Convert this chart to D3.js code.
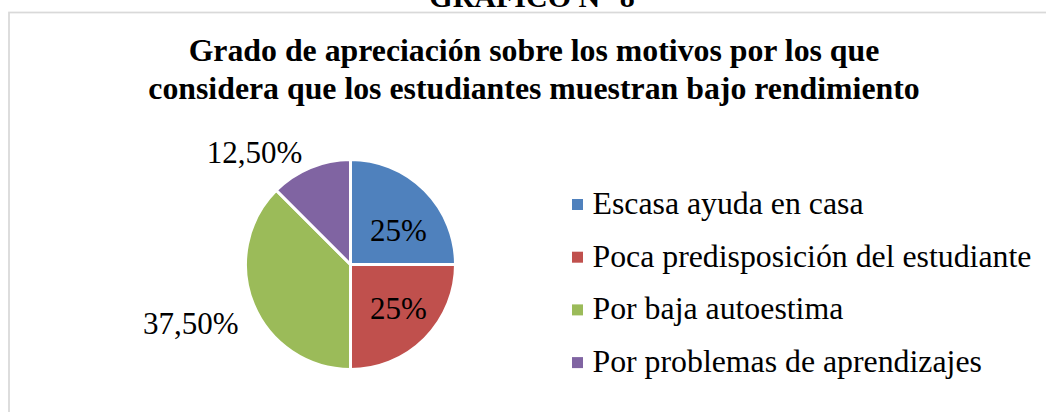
<!DOCTYPE html>
<html>
<head>
<meta charset="utf-8">
<script src="https://cdn.jsdelivr.net/npm/d3@7"></script>
<style>
  html, body { margin: 0; padding: 0; background: #fff; }
  svg { display: block; }
  text { font-family: "Liberation Serif", "Times New Roman", serif; fill: #000; }
</style>
</head>
<body>
<svg id="chart" width="1046" height="412"></svg>
<script>
const categories = ["Escasa ayuda en casa", "Poca predisposición del estudiante", "Por baja autoestima", "Por problemas de aprendizajes"];
const values = [25, 25, 37.5, 12.5];
const valueLabels = ["25%", "25%", "37,50%", "12,50%"];
const colors = ["#4F81BD", "#C0504D", "#9BBB59", "#8064A2"];
const headerText = "GRAFICO N° 8";
const titleLines = ["Grado de apreciación sobre los motivos por los que", "considera que los estudiantes muestran bajo rendimiento"];

const svg = d3.select("#chart");
const W = 1046, H = 412;

svg.append("rect").attr("x", 0).attr("y", 0).attr("width", W).attr("height", H).attr("fill", "#fff");

// header (cut off at top, as in the reference)
svg.append("text").attr("x", 532).attr("y", 7).attr("text-anchor", "middle")
  .attr("font-weight", "bold").attr("font-size", 30).text(headerText);

// chart area border
svg.append("rect").attr("x", 9).attr("y", 12.5).attr("width", W + 20).attr("height", H + 20)
  .attr("fill", "none").attr("stroke", "#d9d9d9").attr("stroke-width", 1.75);

// title
svg.append("g").selectAll("text").data(titleLines).join("text")
  .attr("x", 534).attr("y", (d, i) => 61 + i * 38)
  .attr("text-anchor", "middle").attr("font-weight", "bold").attr("font-size", 31.8)
  .text(d => d);

// pie
const cx = 350.5, cy = 264.5, r = 105;
const pie = d3.pie().sort(null).value(d => d)(values);
const arc = d3.arc().innerRadius(0).outerRadius(r);
const g = svg.append("g").attr("transform", `translate(${cx},${cy})`);
g.selectAll("path").data(pie).join("path")
  .attr("d", arc).attr("fill", (d, i) => colors[i])
  .attr("stroke", "#fff").attr("stroke-width", 3).attr("stroke-linejoin", "miter");

const inArc = d3.arc().innerRadius(55).outerRadius(55);
const outArc = d3.arc().innerRadius(118).outerRadius(118);
g.selectAll("text.lbl").data(pie).join("text").attr("class", "lbl")
  .attr("font-size", 31)
  .each(function(d, i) {
    const sel = d3.select(this);
    if (i < 2) {
      const [x, y] = inArc.centroid(d);
      sel.attr("x", x + 9).attr("y", y + 5).attr("text-anchor", "middle").attr("dominant-baseline", "central");
    } else {
      const [x, y] = outArc.centroid(d);
      sel.attr("x", x - 3).attr("y", y).attr("text-anchor", "end")
        .attr("dominant-baseline", y > 0 ? "hanging" : "central")
        .attr("dy", y > 0 ? 2 : -3);
    }
  })
  .text((d, i) => valueLabels[i]);

// legend
const leg = svg.append("g");
const rows = leg.selectAll("g").data(categories).join("g")
  .attr("transform", (d, i) => `translate(572, ${214 + i * 52.7})`);
rows.append("rect").attr("x", 0).attr("y", -15).attr("width", 11).attr("height", 11)
  .attr("fill", (d, i) => colors[i]);
rows.append("text").attr("x", 20.5).attr("y", 0).attr("font-size", 31.8).text(d => d);
</script>
</body>
</html>
